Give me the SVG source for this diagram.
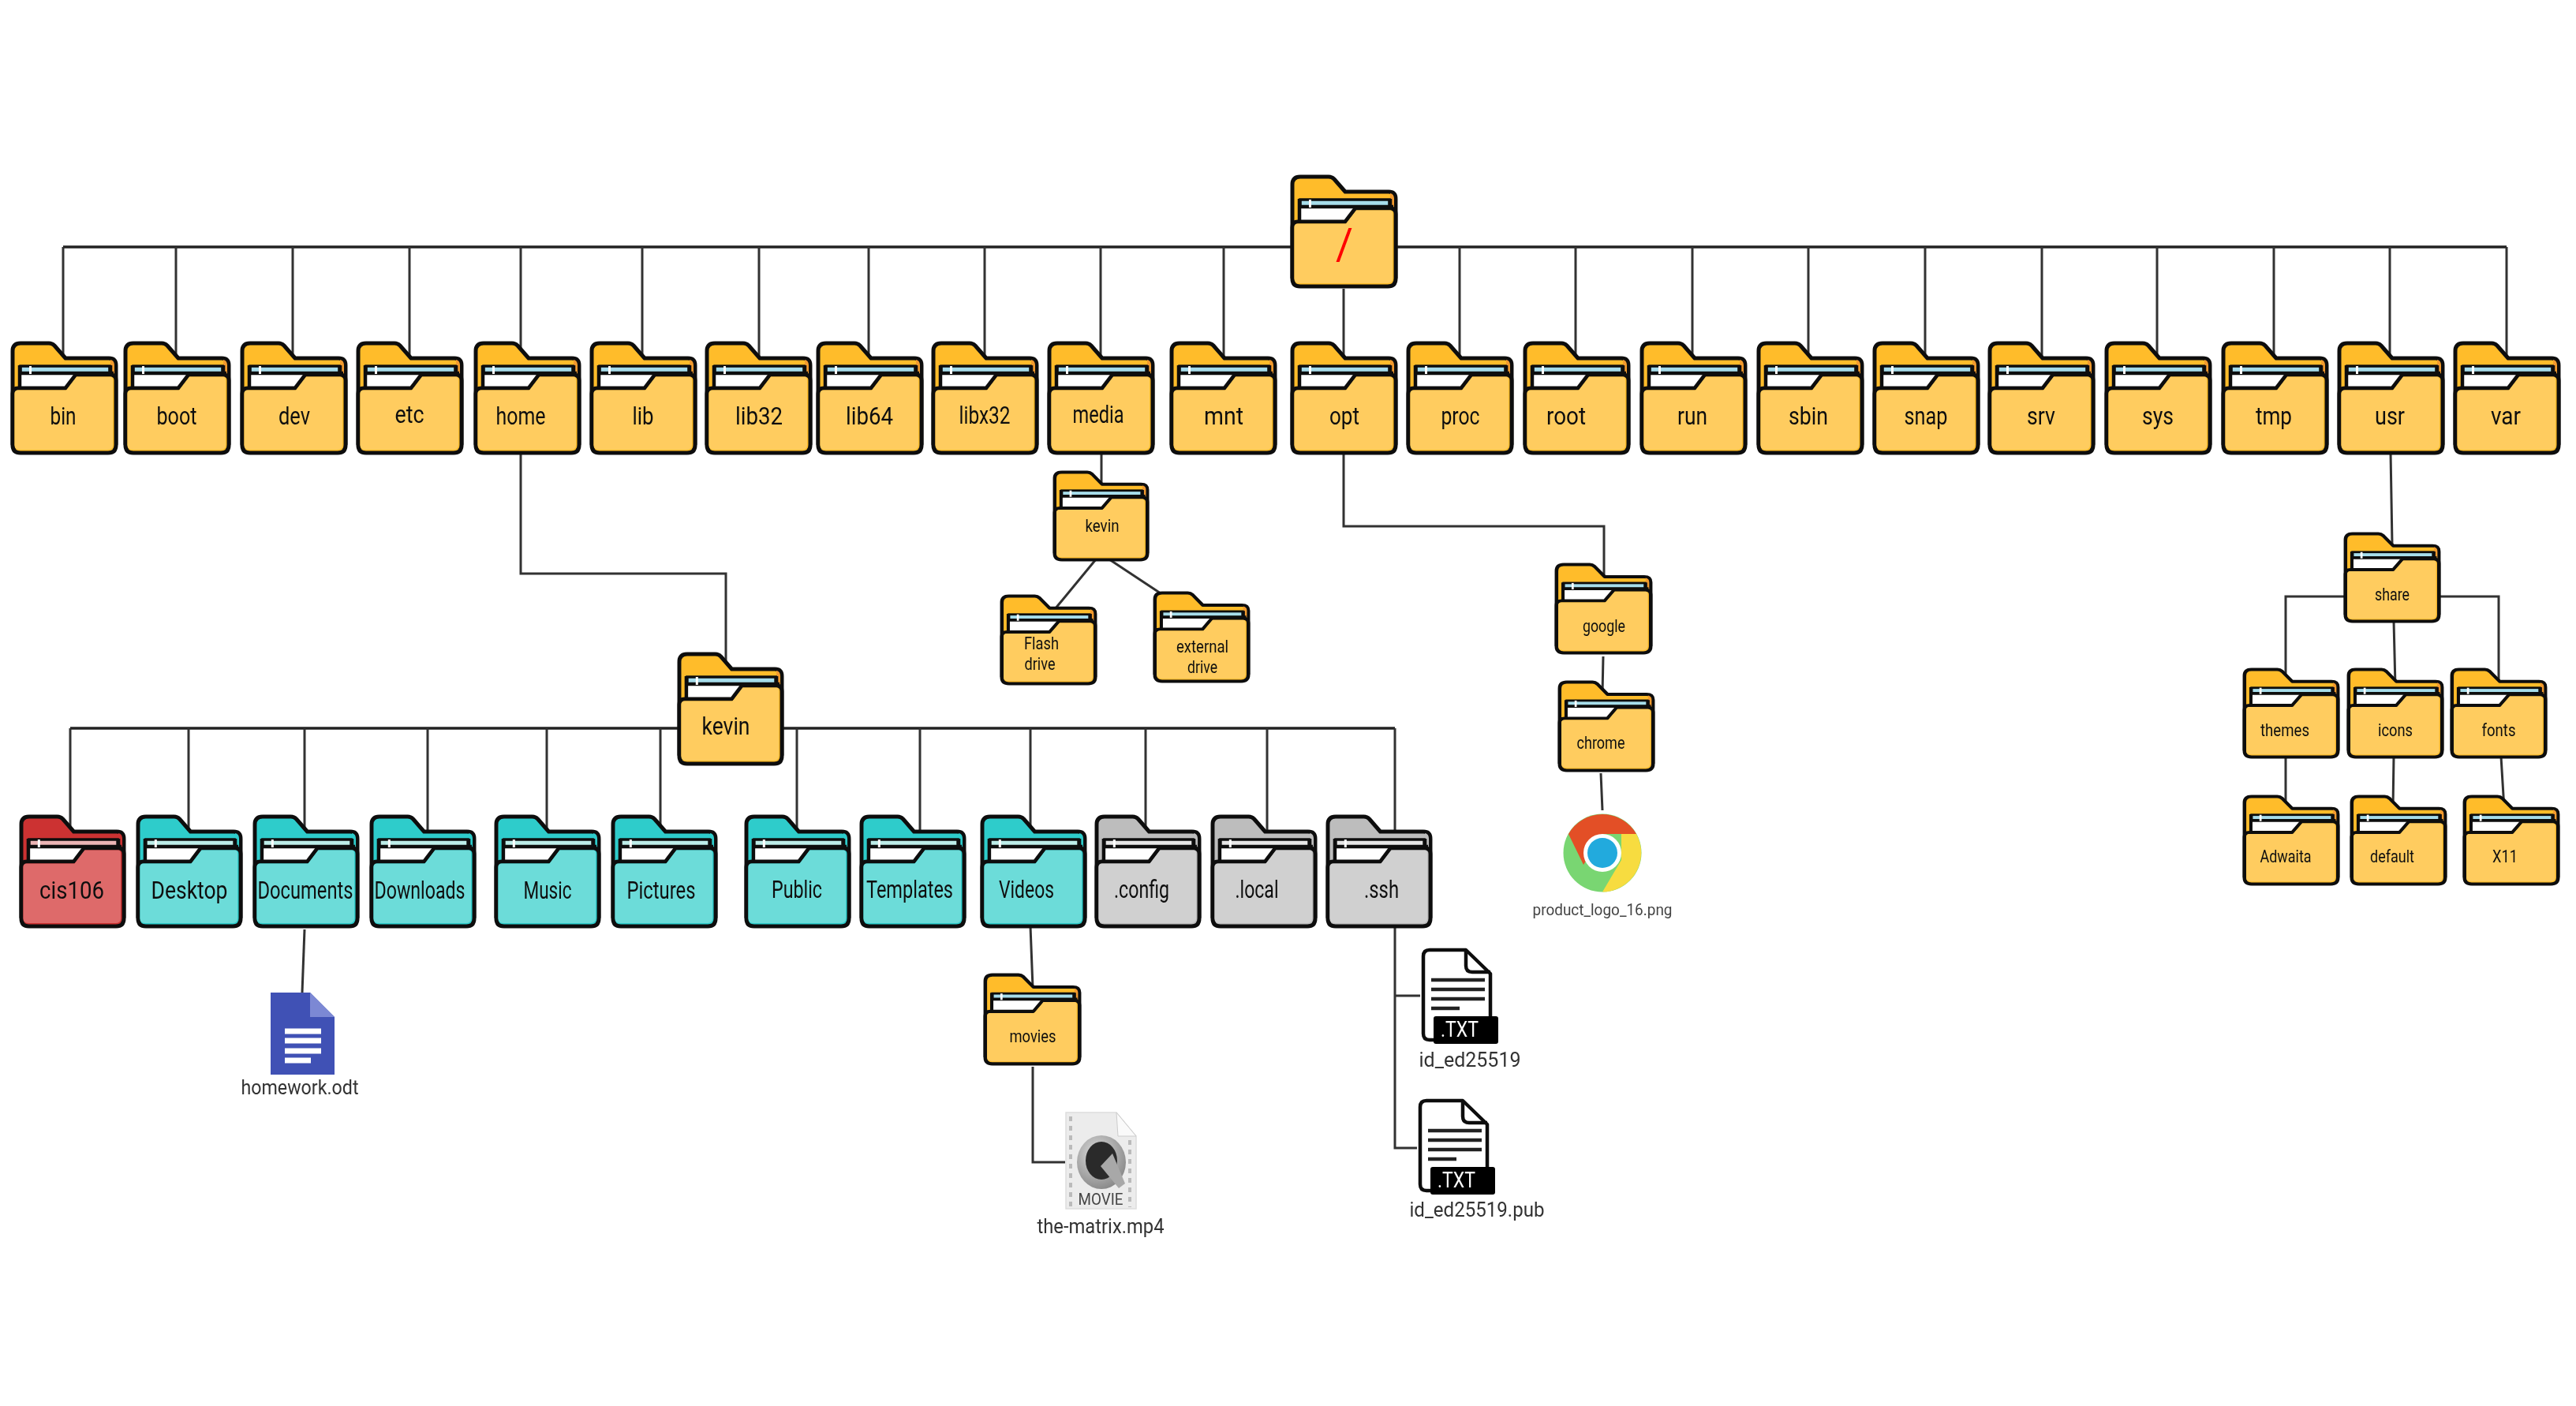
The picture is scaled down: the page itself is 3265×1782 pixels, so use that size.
<svg xmlns="http://www.w3.org/2000/svg" width="3265" height="1782" viewBox="0 0 3265 1782">
<style>
.y{--b:#FFCC5E;--t:#FFBC2C;--c:#F29A2E;--s:#A6DDEB}
.g{--b:#6CDCD9;--t:#2FCCCB;--c:#2FCCCB;--s:#BDEDE9}
.r{--b:#DE6B6B;--t:#CC3333;--c:#CC3333;--s:#EBB5B5}
.n{--b:#D0D0D0;--t:#BDBDBD;--c:#BDBDBD;--s:#E6E6E6}
symbol{overflow:visible}
.fb{fill:var(--t);stroke:#111;stroke-width:5;stroke-linejoin:round}
.fc{fill:var(--c)}
.fs{fill:var(--s)}
.fw{fill:#fff}
.fd{fill:var(--t);stroke:#111;stroke-width:5;stroke-linejoin:round}
.fi{fill:var(--b)}
.fk{stroke:#111;stroke-width:4.500;fill:none}
text{font-family:Roboto,"Liberation Sans",sans-serif;text-anchor:middle;fill:#111}
.l{font-size:31px}
.m{font-size:22px}
.f{font-size:26px;fill:#333}
.fn{font-size:21px;fill:#444}
.c line,.c path{stroke:#333;stroke-width:3;fill:none}
.bus{stroke:#222!important;stroke-width:3.5!important}
.wl{stroke:#fff;stroke-width:7}
</style>
<defs>
<filter id="soft" filterUnits="userSpaceOnUse" x="0" y="0" width="3265" height="1782"><feGaussianBlur stdDeviation="0.5"/></filter>
<symbol id="f" viewBox="-2 -2 135 143" preserveAspectRatio="none">
<path class="fb" d="M0 128V10Q0 0 10 0H46Q50 0 53 3L67 19H122Q131 19 131 28V128Z"/>
<path class="fc" d="M124 21Q129 22 129 28V40H124Z"/>
<rect class="fs" x="10" y="29" width="113" height="9" stroke="#111" stroke-width="3.500"/>
<path class="fw" d="M10 39H80L67 56H10Z"/>
<path class="fk" d="M9 28V58M9 38H128M124 28V40"/>
<rect class="fw" x="21" y="29" width="3" height="10"/>
<path class="fd" d="M0 64Q0 57 7 57H67L80 40H124Q131 40 131 47V129Q131 139 121 139H10Q0 139 0 129Z"/>
<path class="fi" d="M2.500 64Q2.500 59.500 7 59.500H68L81 42.500H124Q127 42.500 127 47V129Q127 135 120 135H10Q2.500 135 2.500 129Z"/>
</symbol>
<symbol id="txt" viewBox="0 0 97 121">
<path d="M17 116H10Q2 116 2 108V10Q2 2 10 2H56L87 32V90" fill="#fff" stroke="#111" stroke-width="4.500" stroke-linejoin="round"/>
<path d="M56 2V22Q56 30 64 30H87" fill="none" stroke="#111" stroke-width="4.500"/>
<path d="M12 40H80M12 52H80M12 64H80M12 76H48" stroke="#222" stroke-width="4.500"/>
<rect x="15" y="86" width="82" height="35" rx="3" fill="#000"/>
</symbol>
<radialGradient id="qg" cx=".4" cy=".35" r=".75"><stop offset="0" stop-color="#ddd"/><stop offset="1" stop-color="#808080"/></radialGradient>
</defs>
<rect width="3265" height="1782" fill="#fff"/>
<g id="diagram" filter="url(#soft)">
<g id="connectors" class="c">
<line class="bus" x1="80" y1="313" x2="3177" y2="313"/>
<path d="M80 313V460M223 313V460M371 313V460M519 313V460M660 313V460M814 313V460M962 313V460M1101 313V460M1248 313V460M1395 313V460M1551 313V460M1850 313V460M1997 313V460M2145 313V460M2292 313V460M2440 313V460M2588 313V460M2734 313V460M2882 313V460M3029 313V460M3177 313V460"/>
<path d="M1703 366V460"/>
<path d="M660 573V727H920V850"/>
<path d="M1396 573V620"/>
<path d="M1389 709L1337 772M1406 709L1471 752"/>
<path d="M1703 573V667H2033V735"/>
<path d="M2032 832L2031 880M2029 980L2031 1027"/>
<path d="M3030 573L3032 690M2973 756H2897V860M3091 756H3167V870M3034 787L3036 870M2897 959V1020M3034 959L3033 1025M3170 959L3174 1025"/>
<line class="bus" x1="89" y1="923" x2="1768" y2="923"/>
<path d="M89 923V1055M239 923V1055M386 923V1055M542 923V1055M693 923V1055M837 923V1055M1010 923V1055M1166 923V1055M1306 923V1055M1452 923V1055M1606 923V1055M1768 923V1055"/>
<path d="M386 1178L383 1258"/>
<path d="M1306 1174L1309 1252M1309 1352V1473H1350"/>
<path d="M1768 1174V1455H1796M1768 1262H1800"/>
</g>
<g id="root" class="y"><use href="#f" x="1636" y="222" width="135" height="143"/><text x="1704" y="329" font-size="55" textLength="22" lengthAdjust="spacingAndGlyphs" style="fill:#f00">/</text></g>
<g id="bin" class="y"><use href="#f" x="14" y="433" width="135" height="143"/><text class="l" x="80" y="538" textLength="33" lengthAdjust="spacingAndGlyphs">bin</text></g>
<g id="boot" class="y"><use href="#f" x="157" y="433" width="135" height="143"/><text class="l" x="224" y="538" textLength="51" lengthAdjust="spacingAndGlyphs">boot</text></g>
<g id="dev" class="y"><use href="#f" x="305" y="433" width="135" height="143"/><text class="l" x="373" y="538" textLength="40" lengthAdjust="spacingAndGlyphs">dev</text></g>
<g id="etc" class="y"><use href="#f" x="452" y="433" width="135" height="143"/><text class="l" x="519" y="536" textLength="37" lengthAdjust="spacingAndGlyphs">etc</text></g>
<g id="home" class="y"><use href="#f" x="601" y="433" width="135" height="143"/><text class="l" x="660" y="538" textLength="63" lengthAdjust="spacingAndGlyphs">home</text></g>
<g id="lib" class="y"><use href="#f" x="748" y="433" width="135" height="143"/><text class="l" x="815" y="538" textLength="27" lengthAdjust="spacingAndGlyphs">lib</text></g>
<g id="lib32" class="y"><use href="#f" x="894" y="433" width="135" height="143"/><text class="l" x="962" y="538" textLength="60" lengthAdjust="spacingAndGlyphs">lib32</text></g>
<g id="lib64" class="y"><use href="#f" x="1035" y="433" width="135" height="143"/><text class="l" x="1102" y="538" textLength="60" lengthAdjust="spacingAndGlyphs">lib64</text></g>
<g id="libx32" class="y"><use href="#f" x="1181" y="433" width="135" height="143"/><text class="l" x="1248" y="537" textLength="65" lengthAdjust="spacingAndGlyphs">libx32</text></g>
<g id="media" class="y"><use href="#f" x="1328" y="433" width="135" height="143"/><text class="l" x="1392" y="536" textLength="65" lengthAdjust="spacingAndGlyphs">media</text></g>
<g id="mnt" class="y"><use href="#f" x="1483" y="433" width="135" height="143"/><text class="l" x="1551" y="538" textLength="50" lengthAdjust="spacingAndGlyphs">mnt</text></g>
<g id="opt" class="y"><use href="#f" x="1636" y="433" width="135" height="143"/><text class="l" x="1704" y="538" textLength="38" lengthAdjust="spacingAndGlyphs">opt</text></g>
<g id="proc" class="y"><use href="#f" x="1783" y="433" width="135" height="143"/><text class="l" x="1851" y="538" textLength="49" lengthAdjust="spacingAndGlyphs">proc</text></g>
<g id="root-dir" class="y"><use href="#f" x="1931" y="433" width="135" height="143"/><text class="l" x="1985" y="538" textLength="50" lengthAdjust="spacingAndGlyphs">root</text></g>
<g id="run" class="y"><use href="#f" x="2079" y="433" width="135" height="143"/><text class="l" x="2145" y="538" textLength="38" lengthAdjust="spacingAndGlyphs">run</text></g>
<g id="sbin" class="y"><use href="#f" x="2227" y="433" width="135" height="143"/><text class="l" x="2292" y="538" textLength="50" lengthAdjust="spacingAndGlyphs">sbin</text></g>
<g id="snap" class="y"><use href="#f" x="2374" y="433" width="135" height="143"/><text class="l" x="2441" y="538" textLength="55" lengthAdjust="spacingAndGlyphs">snap</text></g>
<g id="srv" class="y"><use href="#f" x="2520" y="433" width="135" height="143"/><text class="l" x="2587" y="538" textLength="36" lengthAdjust="spacingAndGlyphs">srv</text></g>
<g id="sys" class="y"><use href="#f" x="2668" y="433" width="135" height="143"/><text class="l" x="2735" y="538" textLength="40" lengthAdjust="spacingAndGlyphs">sys</text></g>
<g id="tmp" class="y"><use href="#f" x="2816" y="433" width="135" height="143"/><text class="l" x="2882" y="538" textLength="46" lengthAdjust="spacingAndGlyphs">tmp</text></g>
<g id="usr" class="y"><use href="#f" x="2963" y="433" width="135" height="143"/><text class="l" x="3029" y="538" textLength="38" lengthAdjust="spacingAndGlyphs">usr</text></g>
<g id="var" class="y"><use href="#f" x="3110" y="433" width="135" height="143"/><text class="l" x="3176" y="538" textLength="38" lengthAdjust="spacingAndGlyphs">var</text></g>
<g id="media-kevin" class="y"><use href="#f" x="1335" y="597" width="121" height="114"/><text class="m" x="1397" y="674" textLength="43" lengthAdjust="spacingAndGlyphs">kevin</text></g>
<g id="flash-drive" class="y"><use href="#f" x="1268" y="754" width="122" height="114"/><text class="m" x="1320" y="823" textLength="44" lengthAdjust="spacingAndGlyphs">Flash</text><text class="m" x="1318" y="849" textLength="39" lengthAdjust="spacingAndGlyphs">drive</text></g>
<g id="external-drive" class="y"><use href="#f" x="1462" y="750" width="122" height="115"/><text class="m" x="1524" y="827" textLength="66" lengthAdjust="spacingAndGlyphs">external</text><text class="m" x="1524" y="853" textLength="38" lengthAdjust="spacingAndGlyphs">drive</text></g>
<g id="google" class="y"><use href="#f" x="1971" y="714" width="123" height="115"/><text class="m" x="2033" y="801" textLength="54" lengthAdjust="spacingAndGlyphs">google</text></g>
<g id="chrome" class="y"><use href="#f" x="1975" y="863" width="122" height="115"/><text class="m" x="2029" y="949" textLength="61" lengthAdjust="spacingAndGlyphs">chrome</text></g>
<g id="share" class="y"><use href="#f" x="2971" y="675" width="122" height="114"/><text class="m" x="3032" y="761" textLength="44" lengthAdjust="spacingAndGlyphs">share</text></g>
<g id="themes" class="y"><use href="#f" x="2843" y="847" width="122" height="114"/><text class="m" x="2896" y="933" textLength="62" lengthAdjust="spacingAndGlyphs">themes</text></g>
<g id="icons" class="y"><use href="#f" x="2975" y="847" width="122" height="114"/><text class="m" x="3036" y="933" textLength="44" lengthAdjust="spacingAndGlyphs">icons</text></g>
<g id="fonts" class="y"><use href="#f" x="3106" y="847" width="122" height="114"/><text class="m" x="3167" y="933" textLength="43" lengthAdjust="spacingAndGlyphs">fonts</text></g>
<g id="adwaita" class="y"><use href="#f" x="2843" y="1008" width="122" height="114"/><text class="m" x="2897" y="1093" textLength="65" lengthAdjust="spacingAndGlyphs">Adwaita</text></g>
<g id="default" class="y"><use href="#f" x="2979" y="1008" width="122" height="114"/><text class="m" x="3032" y="1093" textLength="56" lengthAdjust="spacingAndGlyphs">default</text></g>
<g id="x11" class="y"><use href="#f" x="3122" y="1008" width="122" height="114"/><text class="m" x="3175" y="1093" textLength="32" lengthAdjust="spacingAndGlyphs">X11</text></g>
<g id="home-kevin" class="y"><use href="#f" x="859" y="827" width="134" height="143"/><text class="l" x="920" y="931" textLength="61" lengthAdjust="spacingAndGlyphs">kevin</text></g>
<g id="cis106" class="r"><use href="#f" x="25" y="1033" width="134" height="143"/><text class="l" x="91" y="1139" textLength="82" lengthAdjust="spacingAndGlyphs">cis106</text></g>
<g id="desktop" class="g"><use href="#f" x="173" y="1033" width="134" height="143"/><text class="l" x="240" y="1139" textLength="97" lengthAdjust="spacingAndGlyphs">Desktop</text></g>
<g id="documents" class="g"><use href="#f" x="321" y="1033" width="134" height="143"/><text class="l" x="387" y="1139" textLength="121" lengthAdjust="spacingAndGlyphs">Documents</text></g>
<g id="downloads" class="g"><use href="#f" x="469" y="1033" width="134" height="143"/><text class="l" x="532" y="1139" textLength="115" lengthAdjust="spacingAndGlyphs">Downloads</text></g>
<g id="music" class="g"><use href="#f" x="627" y="1033" width="134" height="143"/><text class="l" x="694" y="1139" textLength="61" lengthAdjust="spacingAndGlyphs">Music</text></g>
<g id="pictures" class="g"><use href="#f" x="775" y="1033" width="134" height="143"/><text class="l" x="838" y="1139" textLength="87" lengthAdjust="spacingAndGlyphs">Pictures</text></g>
<g id="public" class="g"><use href="#f" x="944" y="1033" width="134" height="143"/><text class="l" x="1010" y="1138" textLength="64" lengthAdjust="spacingAndGlyphs">Public</text></g>
<g id="templates" class="g"><use href="#f" x="1090" y="1033" width="134" height="143"/><text class="l" x="1153" y="1138" textLength="110" lengthAdjust="spacingAndGlyphs">Templates</text></g>
<g id="videos" class="g"><use href="#f" x="1243" y="1033" width="134" height="143"/><text class="l" x="1301" y="1138" textLength="70" lengthAdjust="spacingAndGlyphs">Videos</text></g>
<g id="config" class="n"><use href="#f" x="1388" y="1033" width="134" height="143"/><text class="l" x="1447" y="1138" textLength="70" lengthAdjust="spacingAndGlyphs">.config</text></g>
<g id="local" class="n"><use href="#f" x="1535" y="1033" width="134" height="143"/><text class="l" x="1593" y="1138" textLength="55" lengthAdjust="spacingAndGlyphs">.local</text></g>
<g id="ssh" class="n"><use href="#f" x="1681" y="1033" width="134" height="143"/><text class="l" x="1751" y="1138" textLength="44" lengthAdjust="spacingAndGlyphs">.ssh</text></g>
<g id="movies" class="y"><use href="#f" x="1247" y="1234" width="123" height="116"/><text class="m" x="1309" y="1321" textLength="59" lengthAdjust="spacingAndGlyphs">movies</text></g>
<g id="homework">
<path d="M343 1258H393L424 1289V1362H343Z" fill="#3F51B5"/>
<path d="M393 1258L424 1289H393Z" fill="#7B88D4"/>
<path class="wl" d="M361 1307H407M361 1319H407M361 1332H407M361 1344H394"/>
<text class="f" x="380" y="1387" textLength="149" lengthAdjust="spacingAndGlyphs">homework.odt</text>
</g>
<g id="matrix">
<path d="M1351 1410H1415L1440 1440V1532H1351Z" fill="#ececec" stroke="#ddd" stroke-width="1.500"/>
<path d="M1415 1410L1440 1440H1417Z" fill="#fafafa" stroke="#ccc"/>
<path d="M1357 1415V1530M1432 1445V1530" stroke="#bbb" stroke-width="4" stroke-dasharray="6 6" fill="none"/>
<ellipse cx="1396" cy="1473" rx="31" ry="34" fill="url(#qg)"/>
<ellipse cx="1396" cy="1471" rx="20" ry="24" fill="#2b2b2b"/>
<path d="M1395 1478L1410 1462L1426 1500L1418 1506Z" fill="#a8a8a8"/>
<text class="fn" x="1395" y="1527" textLength="57" lengthAdjust="spacingAndGlyphs">MOVIE</text>
<text class="f" x="1395" y="1563" textLength="161" lengthAdjust="spacingAndGlyphs">the-matrix.mp4</text>
</g>
<g id="id-ed25519">
<use href="#txt" x="1802" y="1202" width="97" height="121"/>
<text x="1850" y="1314" font-size="27" textLength="48" lengthAdjust="spacingAndGlyphs" style="fill:#fff">.TXT</text>
<text class="f" x="1863" y="1352" textLength="129" lengthAdjust="spacingAndGlyphs">id_ed25519</text>
</g>
<g id="id-ed25519-pub">
<use href="#txt" x="1798" y="1393" width="97" height="121"/>
<text x="1846" y="1505" font-size="27" textLength="48" lengthAdjust="spacingAndGlyphs" style="fill:#fff">.TXT</text>
<text class="f" x="1872" y="1542" textLength="171" lengthAdjust="spacingAndGlyphs">id_ed25519.pub</text>
</g>
<g id="product-logo">
<circle cx="2031" cy="1081" r="49.500" fill="#79D672"/>
<path d="M1988 1057A49.500 49.500 0 0 1 2074 1057H2031L2007 1096Z" fill="#E34F26"/>
<path d="M2074 1057A49.500 49.500 0 0 1 2031 1130.500L2055 1090V1057Z" fill="#F7DC3F"/>
<circle cx="2031" cy="1081" r="24" fill="#fff"/>
<circle cx="2031" cy="1081" r="19" fill="#21AADD"/>
<text class="fn" x="2031" y="1160" textLength="177" lengthAdjust="spacingAndGlyphs">product_logo_16.png</text>
</g>
</g>
</svg>
